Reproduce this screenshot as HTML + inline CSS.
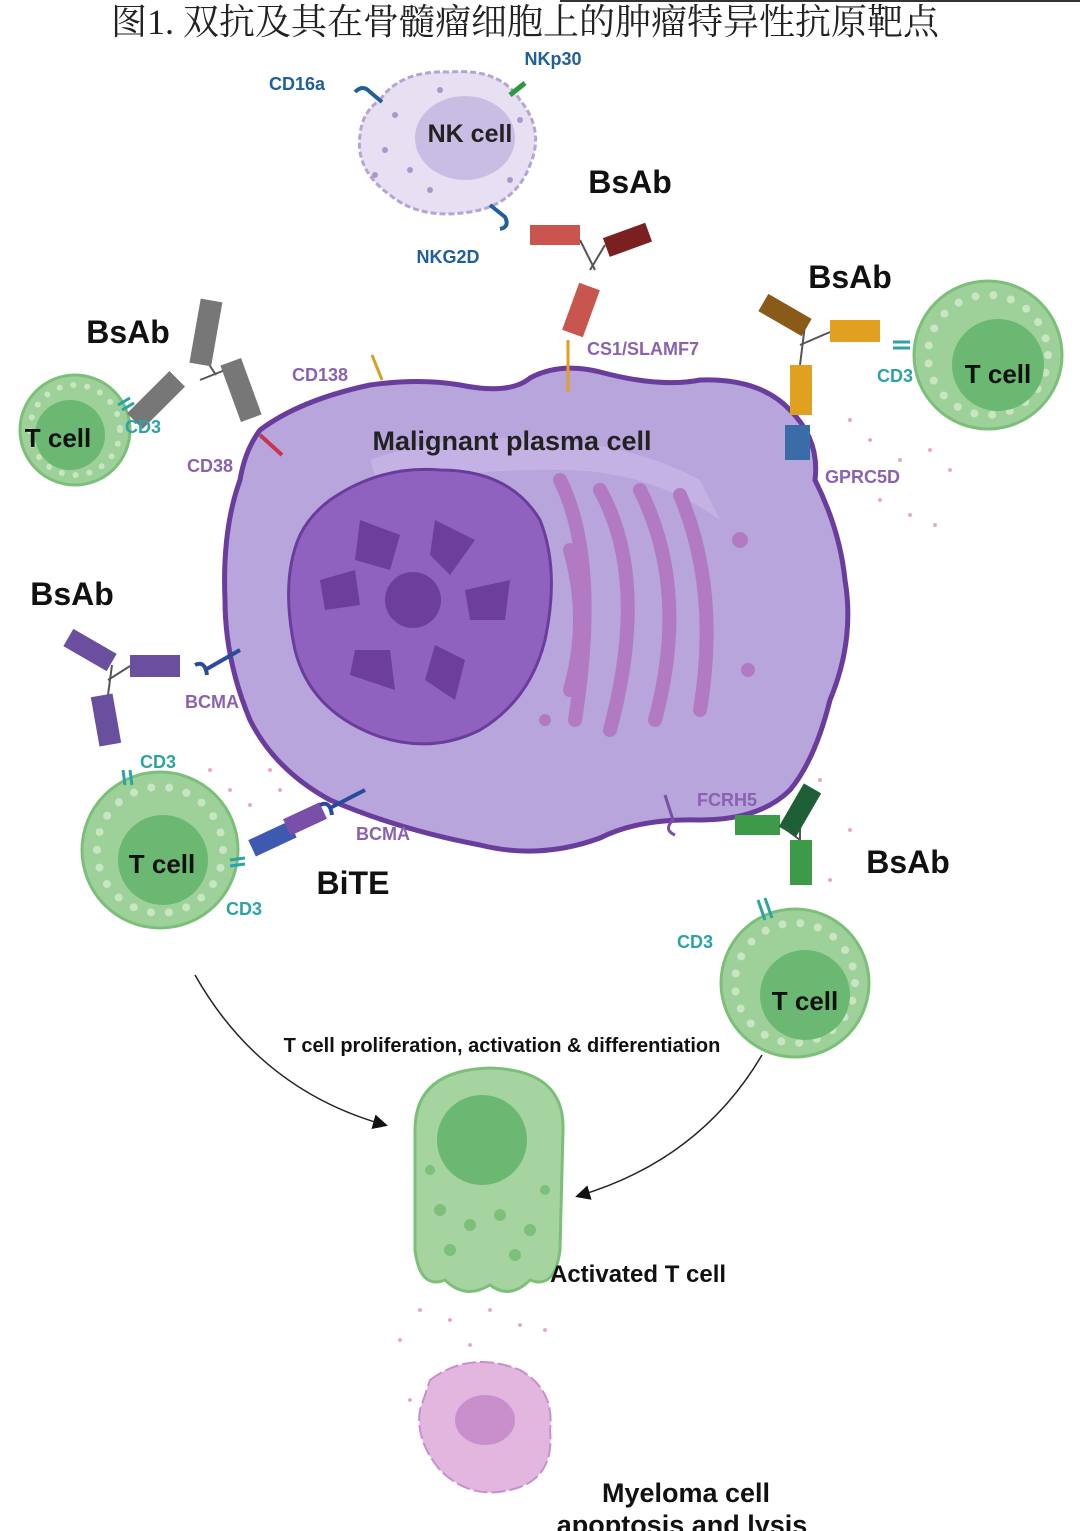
<!DOCTYPE html>
<html><head><meta charset="utf-8"><style>
html,body{margin:0;padding:0;background:#fff;}
svg{display:block;}
text{font-family:"Liberation Sans",sans-serif;font-weight:bold;}
</style></head><body>
<svg width="1080" height="1531" viewBox="0 0 1080 1531" xmlns="http://www.w3.org/2000/svg">
<line x1="560" y1="1" x2="1080" y2="1" stroke="#333" stroke-width="2"/>
<text x="525" y="34" text-anchor="middle" style="font-family:'Liberation Serif','Noto Serif CJK SC',serif;font-weight:normal" font-size="36" fill="#222">图1. 双抗及其在骨髓瘤细胞上的肿瘤特异性抗原靶点</text>

<!-- NK cell -->
<path d="M380 100 Q400 70 450 72 Q500 68 520 100 Q545 130 530 165 Q515 205 470 212 Q420 220 390 195 Q355 170 360 135 Q362 112 380 100Z" fill="#e6e0f2" stroke="#b3a6d4" stroke-width="3" stroke-dasharray="6 3"/>
<ellipse cx="465" cy="138" rx="50" ry="42" fill="#c9bde3"/>
<g fill="#a898cc"><circle cx="395" cy="115" r="3"/><circle cx="410" cy="170" r="3"/><circle cx="385" cy="150" r="3"/><circle cx="430" cy="190" r="3"/><circle cx="510" cy="180" r="3"/><circle cx="520" cy="120" r="3"/><circle cx="440" cy="90" r="3"/><circle cx="375" cy="175" r="3"/></g>
<text x="470" y="142" text-anchor="middle" font-size="25" fill="#222">NK cell</text>
<text x="297" y="90" text-anchor="middle" font-size="18" fill="#1f5f9a">CD16a</text>
<text x="553" y="65" text-anchor="middle" font-size="18" fill="#1f5f9a">NKp30</text>
<text x="448" y="263" text-anchor="middle" font-size="18" fill="#1f5f9a">NKG2D</text>
<path d="M355 92 q8 -8 15 0 l12 10" stroke="#1f5f9a" stroke-width="4" fill="none"/>
<path d="M510 95 l15 -12" stroke="#2e9a40" stroke-width="5"/>
<path d="M490 205 l15 12 q5 10 -5 12" stroke="#1f5f9a" stroke-width="4" fill="none"/>

<!-- Malignant plasma cell -->
<path d="M260 430 Q300 400 370 385 Q420 378 460 385 Q510 395 530 378 Q560 362 600 372 Q660 388 700 380 Q760 378 790 410 Q820 440 815 480 Q840 530 845 580 Q855 640 830 700 Q815 760 790 790 Q760 820 700 820 Q640 818 600 838 Q540 860 480 845 Q400 830 330 800 Q275 770 250 720 Q225 660 225 600 Q222 530 240 480 Q245 450 260 430Z" fill="#b8a5dc" stroke="#6a3d9c" stroke-width="5"/>
<path d="M370 460 Q450 430 560 440 Q640 448 700 480 L720 520 Q650 470 560 470 Q460 468 380 490Z" fill="#c7b8e6" opacity="0.7"/>
<text x="512" y="450" text-anchor="middle" font-size="27" fill="#222">Malignant plasma cell</text>
<path d="M330 500 Q380 465 440 470 Q510 470 540 520 Q560 570 545 640 Q530 700 480 730 Q430 755 375 735 Q310 710 295 650 Q280 580 300 535 Q310 515 330 500Z" fill="#8e62be" stroke="#6a3d9c" stroke-width="3"/>
<g fill="#6d3e9c">
<circle cx="413" cy="600" r="28"/>
<path d="M360 520 l40 15 l-10 35 l-35 -10Z"/>
<path d="M435 520 l40 20 l-25 35 l-20 -20Z"/>
<path d="M465 590 l45 -10 l-5 40 l-35 0Z"/>
<path d="M435 645 l30 15 l-10 40 l-30 -20Z"/>
<path d="M355 650 l35 0 l5 40 l-45 -15Z"/>
<path d="M320 580 l35 -10 l5 35 l-35 5Z"/>
</g>
<g stroke="#b27ac2" stroke-width="14" fill="none" stroke-linecap="round">
<path d="M560 480 Q600 560 575 720"/>
<path d="M600 490 Q650 580 610 730"/>
<path d="M640 490 Q690 590 655 720"/>
<path d="M680 495 Q720 590 700 710"/>
<path d="M570 550 Q590 620 570 690"/>
</g>
<circle cx="740" cy="540" r="8" fill="#b27ac2"/><circle cx="748" cy="670" r="7" fill="#b27ac2"/><circle cx="545" cy="720" r="6" fill="#b27ac2"/>

<!-- T cells -->
<g stroke-linecap="round" fill="none">
<circle cx="75" cy="430" r="55" fill="#9ed19a" stroke="#7cbf78" stroke-width="3"/>
<circle cx="75" cy="430" r="45" stroke="#c8e6c2" stroke-width="6" stroke-dasharray="0 14"/>
<circle cx="70" cy="435" r="35" fill="#6ab872"/>
<circle cx="988" cy="355" r="74" fill="#9ed19a" stroke="#7cbf78" stroke-width="3"/>
<circle cx="988" cy="355" r="60" stroke="#c8e6c2" stroke-width="8" stroke-dasharray="0 18"/>
<circle cx="998" cy="365" r="46" fill="#6ab872"/>
<circle cx="160" cy="850" r="78" fill="#9ed19a" stroke="#7cbf78" stroke-width="3"/>
<circle cx="160" cy="850" r="63" stroke="#c8e6c2" stroke-width="8" stroke-dasharray="0 18"/>
<circle cx="163" cy="860" r="45" fill="#6ab872"/>
<circle cx="795" cy="983" r="74" fill="#9ed19a" stroke="#7cbf78" stroke-width="3"/>
<circle cx="795" cy="983" r="60" stroke="#c8e6c2" stroke-width="8" stroke-dasharray="0 18"/>
<circle cx="805" cy="995" r="45" fill="#6ab872"/>
</g>
<text x="58" y="447" text-anchor="middle" font-size="26" fill="#111">T cell</text>
<text x="998" y="383" text-anchor="middle" font-size="26" fill="#111">T cell</text>
<text x="162" y="873" text-anchor="middle" font-size="26" fill="#111">T cell</text>
<text x="805" y="1010" text-anchor="middle" font-size="26" fill="#111">T cell</text>

<!-- antibodies -->
<g stroke="#555" stroke-width="2"><line x1="206" y1="360" x2="216" y2="375"/><line x1="225" y1="370" x2="200" y2="380"/></g>
<g fill="#777"><rect x="195" y="300" width="22" height="65" transform="rotate(10 206 332)"/><rect x="230" y="360" width="22" height="60" transform="rotate(-20 241 390)"/><rect x="145" y="370" width="22" height="60" transform="rotate(45 156 400)"/></g>
<g stroke="#555" stroke-width="2"><line x1="580" y1="240" x2="595" y2="270"/><line x1="605" y1="245" x2="590" y2="270"/></g>
<g fill="#c9554f"><rect x="530" y="225" width="50" height="20"/><rect x="605" y="230" width="45" height="20" fill="#7a2020" transform="rotate(-20 627 240)"/><rect x="570" y="285" width="22" height="50" transform="rotate(20 581 310)"/></g>
<line x1="568" y1="340" x2="568" y2="392" stroke="#e0a020" stroke-width="3"/>
<g stroke="#555" stroke-width="2"><line x1="805" y1="325" x2="800" y2="365"/><line x1="830" y1="332" x2="800" y2="345"/></g>
<g fill="#e0a020"><rect x="760" y="305" width="50" height="20" fill="#8a5a18" transform="rotate(30 785 315)"/><rect x="830" y="320" width="50" height="22"/><rect x="790" y="365" width="22" height="50"/></g>
<g stroke="#555" stroke-width="2"><line x1="112" y1="665" x2="108" y2="695"/><line x1="130" y1="666" x2="108" y2="680"/></g>
<g fill="#6a4f9e"><rect x="65" y="640" width="50" height="20" transform="rotate(30 90 650)"/><rect x="130" y="655" width="50" height="22"/><rect x="95" y="695" width="22" height="50" transform="rotate(-10 106 720)"/></g>
<path d="M195 665 q10 -5 12 10 M205 670 l35 -20" stroke="#2a4a9a" stroke-width="4" fill="none"/>
<g fill="#3d5ab0"><rect x="250" y="830" width="45" height="18" transform="rotate(-25 272 839)"/><rect x="285" y="810" width="40" height="18" fill="#7a4fa8" transform="rotate(-25 305 819)"/></g>
<path d="M320 805 q10 -5 12 10 M330 808 l35 -18" stroke="#2a4a9a" stroke-width="4" fill="none"/>
<g stroke="#555" stroke-width="2"><line x1="780" y1="825" x2="800" y2="840"/><line x1="800" y1="815" x2="800" y2="840"/></g>
<g fill="#3c9a48"><rect x="735" y="815" width="45" height="20"/><rect x="790" y="785" width="20" height="50" fill="#1f5f38" transform="rotate(30 800 810)"/><rect x="790" y="840" width="22" height="45"/></g>
<path d="M665 795 l8 25 q-10 10 2 15" stroke="#7a4fa8" stroke-width="3" fill="none"/>
<rect x="785" y="425" width="25" height="35" fill="#3a6ca8"/>
<path d="M260 435 l22 20" stroke="#c8354f" stroke-width="4"/>
<path d="M372 355 l10 25" stroke="#d4a020" stroke-width="3"/>
<!-- CD3 on cells -->
<g stroke="#2ea3a3" stroke-width="3"><line x1="118" y1="405" x2="130" y2="398"/><line x1="122" y1="410" x2="134" y2="403"/><line x1="893" y1="342" x2="910" y2="342"/><line x1="893" y1="348" x2="910" y2="348"/><line x1="123" y1="770" x2="125" y2="785"/><line x1="130" y1="770" x2="132" y2="785"/><line x1="230" y1="860" x2="245" y2="858"/><line x1="230" y1="866" x2="245" y2="864"/><line x1="758" y1="900" x2="765" y2="920"/><line x1="765" y1="898" x2="772" y2="918"/></g>

<!-- pink spots -->
<g fill="#e08aa0" opacity="0.7">
<circle cx="850" cy="420" r="2"/><circle cx="870" cy="440" r="2"/><circle cx="900" cy="460" r="2"/><circle cx="930" cy="450" r="2"/><circle cx="950" cy="470" r="2"/><circle cx="880" cy="500" r="2"/><circle cx="910" cy="515" r="2"/><circle cx="935" cy="525" r="2"/>
<circle cx="210" cy="770" r="2"/><circle cx="230" cy="790" r="2"/><circle cx="270" cy="770" r="2"/><circle cx="280" cy="790" r="2"/><circle cx="250" cy="805" r="2"/>
<circle cx="820" cy="780" r="2"/><circle cx="850" cy="830" r="2"/><circle cx="830" cy="880" r="2"/>
<circle cx="420" cy="1310" r="2"/><circle cx="450" cy="1320" r="2"/><circle cx="490" cy="1310" r="2"/><circle cx="520" cy="1325" r="2"/><circle cx="545" cy="1330" r="2"/><circle cx="400" cy="1340" r="2"/><circle cx="470" cy="1345" r="2"/><circle cx="410" cy="1400" r="2"/>
</g>

<g font-size="32" fill="#111">
<text x="630" y="193" text-anchor="middle">BsAb</text>
<text x="850" y="288" text-anchor="middle">BsAb</text>
<text x="128" y="343" text-anchor="middle">BsAb</text>
<text x="72" y="605" text-anchor="middle">BsAb</text>
<text x="908" y="873" text-anchor="middle">BsAb</text>
<text x="353" y="894" text-anchor="middle">BiTE</text>
</g>
<g font-size="18" fill="#8a62b0">
<text x="587" y="355">CS1/SLAMF7</text>
<text x="292" y="381">CD138</text>
<text x="187" y="472">CD38</text>
<text x="825" y="483">GPRC5D</text>
<text x="185" y="708">BCMA</text>
<text x="356" y="840">BCMA</text>
<text x="697" y="806">FCRH5</text>
</g>
<g font-size="18" fill="#2ea3a3">
<text x="125" y="433">CD3</text>
<text x="877" y="382">CD3</text>
<text x="140" y="768">CD3</text>
<text x="226" y="915">CD3</text>
<text x="677" y="948">CD3</text>
</g>
<text x="502" y="1052" text-anchor="middle" font-size="20" fill="#111">T cell proliferation, activation &amp; differentiation</text>

<defs><marker id="ah" markerWidth="10" markerHeight="10" refX="8" refY="5" orient="auto"><path d="M0 0 L10 5 L0 10 Z" fill="#111"/></marker></defs>
<path d="M195 975 Q260 1090 385 1125" stroke="#222" stroke-width="1.5" fill="none" marker-end="url(#ah)"/>
<path d="M762 1055 Q700 1160 578 1196" stroke="#222" stroke-width="1.5" fill="none" marker-end="url(#ah)"/>

<path d="M415 1130 Q415 1070 490 1068 Q565 1070 563 1130 L560 1250 Q555 1290 530 1280 Q510 1300 490 1285 Q465 1300 445 1280 Q420 1290 415 1250Z" fill="#a6d4a1" stroke="#7cbf78" stroke-width="3"/>
<g fill="#7cc07a"><circle cx="440" cy="1210" r="6"/><circle cx="470" cy="1225" r="6"/><circle cx="500" cy="1215" r="6"/><circle cx="530" cy="1230" r="6"/><circle cx="450" cy="1250" r="6"/><circle cx="515" cy="1255" r="6"/><circle cx="545" cy="1190" r="5"/><circle cx="430" cy="1170" r="5"/></g>
<circle cx="482" cy="1140" r="45" fill="#6ab872"/>
<text x="550" y="1282" font-size="24" fill="#111">Activated T cell</text>

<path d="M430 1380 Q470 1350 520 1370 Q555 1390 550 1430 Q555 1480 510 1490 Q470 1500 440 1470 Q415 1440 420 1410Z" fill="#e3b6e0" stroke="#c98fcc" stroke-width="2" stroke-dasharray="14 4"/>
<ellipse cx="485" cy="1420" rx="30" ry="25" fill="#c98fcc"/>
<text x="686" y="1502" text-anchor="middle" font-size="27" fill="#111">Myeloma cell</text>
<text x="682" y="1534" text-anchor="middle" font-size="27" fill="#111">apoptosis and lysis</text>
</svg>
</body></html>
